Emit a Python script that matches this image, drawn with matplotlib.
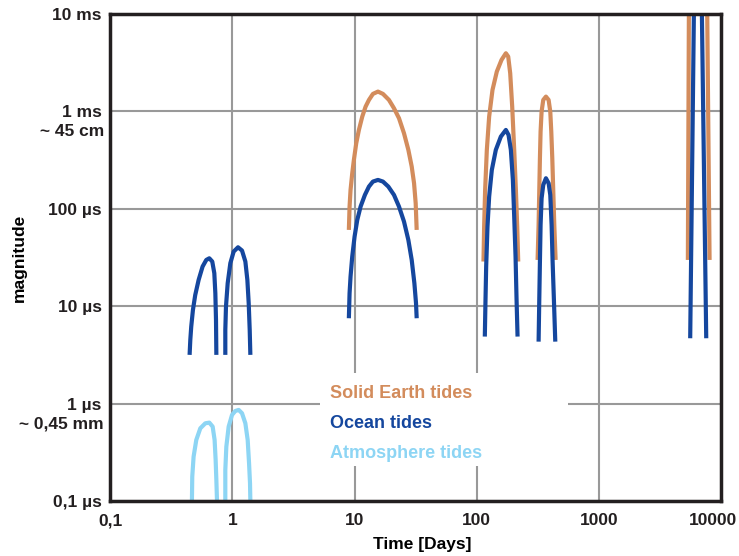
import numpy as np
import matplotlib
matplotlib.use("Agg")
import matplotlib.pyplot as plt
import matplotlib.transforms as mtransforms
from matplotlib.patches import Rectangle

plt.rcParams['font.family'] = ['Liberation Sans', 'DejaVu Sans']
plt.rcParams['font.weight'] = 'bold'

# colours
c_solid = "#d38c5c"
c_ocean = "#15479e"
c_atmo = "#8dd5f4"

# arches: time in days, magnitude in microseconds
ocean_d1_x = [0.447, 0.453, 0.461, 0.476, 0.497, 0.530, 0.571, 0.612, 0.648, 0.685, 0.712, 0.726, 0.735, 0.740]
ocean_d1_y = [3.16, 4.50, 6.16, 9.14, 13.0, 18.6, 25.5, 29.8, 31.0, 28.7, 21.8, 13.56, 7.22, 3.16]
ocean_d2_x = [0.876, 0.876, 0.887, 0.916, 0.963, 1.025, 1.113, 1.200, 1.278, 1.327, 1.361, 1.387, 1.404]
ocean_d2_y = [3.16, 5.70, 9.89, 17.2, 27.6, 36.3, 40.2, 37.2, 28.7, 18.6, 10.7, 5.70, 3.16]

atmo_d1_x = [0.467, 0.470, 0.482, 0.507, 0.547, 0.601, 0.648, 0.690, 0.716, 0.730, 0.740, 0.749]
atmo_d1_y = [0.1, 0.178, 0.285, 0.423, 0.557, 0.627, 0.637, 0.580, 0.423, 0.264, 0.164, 0.1]
atmo_d2_x = [0.876, 0.876, 0.893, 0.933, 0.994, 1.058, 1.127, 1.200, 1.278, 1.335, 1.370, 1.395, 1.404]
atmo_d2_y = [0.1, 0.208, 0.361, 0.580, 0.764, 0.839, 0.860, 0.795, 0.627, 0.423, 0.244, 0.152, 0.1]

solid_m_x = [8.98, 9.10, 9.27, 9.57, 9.87, 10.32, 10.85, 11.56, 12.31, 13.11, 14.13, 15.54,
             17.07, 19.11, 21.01, 23.09, 25.37, 27.54, 29.34, 30.66, 31.62, 32.22]
solid_m_y = [60.6, 105, 156, 231, 317, 470, 644, 883, 1118, 1309, 1509, 1594,
             1509, 1309, 1075, 849, 595, 402, 271, 183, 114, 60.6]
ocean_m_x = [8.98, 9.10, 9.27, 9.57, 10.0, 10.52, 11.20, 12.15, 13.11, 14.13, 15.54,
             17.07, 18.88, 21.01, 23.09, 25.37, 27.54, 29.34, 30.85, 31.82, 32.22]
ocean_m_y = [7.51, 13.56, 20.1, 32.3, 51.7, 76.7, 105.2, 138.6, 168.8, 189.9, 197.6,
             189.9, 168.8, 138.6, 105.2, 73.8, 47.8, 29.8, 17.2, 10.7, 7.51]

solid_sa_x = [113.4, 114.8, 117.0, 120.8, 126.2, 134.4, 145.8, 159.3, 172.9, 180.7, 187.6,
              194.8, 202.3, 208.8, 214.1, 218.2]
solid_sa_y = [28.7, 65.5, 156, 402, 883, 1658, 2558, 3371, 3946, 3647, 2459,
              1118, 402, 156, 65.5, 28.7]
ocean_sa_x = [116.3, 117.8, 119.3, 122.3, 126.2, 132.7, 143.1, 157.3, 172.9, 181.8, 189.9,
              197.3, 202.3, 207.5, 211.5, 215.5]
ocean_sa_y = [4.87, 11.58, 25.5, 65.5, 133.2, 250, 402, 550, 644, 572, 402,
              197.6, 83.0, 32.3, 11.58, 4.87]

solid_a_x = [314.3, 320.3, 324.3, 328.4, 332.5, 338.9, 349.7, 367.8, 386.8, 399.1, 406.7,
             414.5, 422.4, 430.4, 441.4]
solid_a_y = [29.8, 68.2, 150, 330, 619, 994, 1309, 1416, 1309, 994, 619,
             330, 150, 68.2, 29.8]
ocean_a_x = [320.3, 324.3, 328.4, 332.5, 338.9, 349.7, 367.8, 386.8, 399.1, 409.3, 417.1,
             427.7, 438.6]
ocean_a_y = [4.32, 11.3, 28.7, 68.2, 128, 175.5, 205.5, 182.6, 138.6, 68.2, 28.7,
             11.3, 4.32]

# 18.6 year arches run off the top of the chart
solid_n_x = [5331, 5433, 6500, 7677, 8023]
solid_n_y = [29.8, 10000, 100000, 10000, 29.8]
ocean_n_x = [5570, 5970, 6450, 6942, 7534]
ocean_n_y = [4.68, 10000, 100000, 10000, 4.68]

xticks = [0.1, 1, 10, 100, 1000, 10000]
xlabels = ["0,1", "1", "10", "100", "1000", "10000"]
yticks = [0.1, 1, 10, 100, 1000, 10000]
ylabels = ["0,1 µs", "1 µs", "10 µs", "100 µs", "1 ms", "10 ms"]
ysub = {1: "~ 0,45 mm", 1000: "~ 45 cm"}

fig = plt.figure(figsize=(7.39, 5.56), dpi=100)
ax = fig.add_axes([0.149, 0.099, 0.827, 0.876])
ax.set_xscale("log")
ax.set_yscale("log")
ax.set_xlim(0.1, 10000)
ax.set_ylim(0.1, 10000)

kw = dict(lw=3, solid_joinstyle="round", solid_capstyle="butt")
ax.plot(solid_m_x, solid_m_y, color=c_solid, label="Solid Earth tides", **kw)
ax.plot(solid_sa_x, solid_sa_y, color=c_solid, **kw)
ax.plot(solid_a_x, solid_a_y, color=c_solid, **kw)
ax.plot(solid_n_x, solid_n_y, color=c_solid, **kw)

ax.plot(ocean_d1_x, ocean_d1_y, color=c_ocean, label="Ocean tides", **kw)
ax.plot(ocean_d2_x, ocean_d2_y, color=c_ocean, **kw)
ax.plot(ocean_m_x, ocean_m_y, color=c_ocean, **kw)
ax.plot(ocean_sa_x, ocean_sa_y, color=c_ocean, **kw)
ax.plot(ocean_a_x, ocean_a_y, color=c_ocean, **kw)
ax.plot(ocean_n_x, ocean_n_y, color=c_ocean, **kw)

ax.plot(atmo_d1_x, atmo_d1_y, color=c_atmo, label="Atmosphere tides", **kw)
ax.plot(atmo_d2_x, atmo_d2_y, color=c_atmo, **kw)

ax.set_xticks(xticks)
ax.set_xticklabels(xlabels)
ax.set_yticks(yticks)
ax.set_yticklabels(ylabels)
ax.minorticks_off()
ax.tick_params(length=0, labelsize=12.5, colors="#231f20")
ax.tick_params(axis="x", pad=9)
ax.tick_params(axis="y", pad=6)
ax.grid(True, color="#999999", lw=1.5)
ax.set_axisbelow(True)
for s in ax.spines.values():
    s.set_linewidth(2.5)
    s.set_color("#231f20")

# last x label sits a bit left of its tick, as in the original
lab = ax.get_xticklabels()[-1]
lab.set_transform(lab.get_transform() + mtransforms.ScaledTranslation(-8 / 100, 0, fig.dpi_scale_trans))

# second line under some y labels
trans = mtransforms.blended_transform_factory(ax.transAxes, ax.transData)
for yv, txt in ysub.items():
    ax.annotate(txt, xy=(0, yv), xycoords=trans, xytext=(-6, -20),
                textcoords="offset pixels", ha="right", va="center",
                fontsize=12.5, fontweight="bold", color="#231f20",
                annotation_clip=False)

ax.set_xlabel("Time [Days]", fontsize=12.5, fontweight="bold")
ax.xaxis.set_label_coords(0.51, -0.075)
ax.set_ylabel("magnitude", fontsize=12.5, fontweight="bold", labelpad=15)

# white block behind the legend, cutting the grid
ax.add_patch(Rectangle((0.344, 0.072), 0.406, 0.191, transform=ax.transAxes,
                       facecolor="white", edgecolor="none", zorder=1.5))

leg = ax.legend(loc="upper left", bbox_to_anchor=(0.339, 0.263),
                handlelength=0, handletextpad=0, labelcolor="linecolor",
                prop={"size": 13, "weight": "bold"}, frameon=False,
                labelspacing=0.72, borderpad=0.7, borderaxespad=0)
for h in leg.legend_handles:
    h.set_visible(False)

plt.savefig("out.png", dpi=100)
